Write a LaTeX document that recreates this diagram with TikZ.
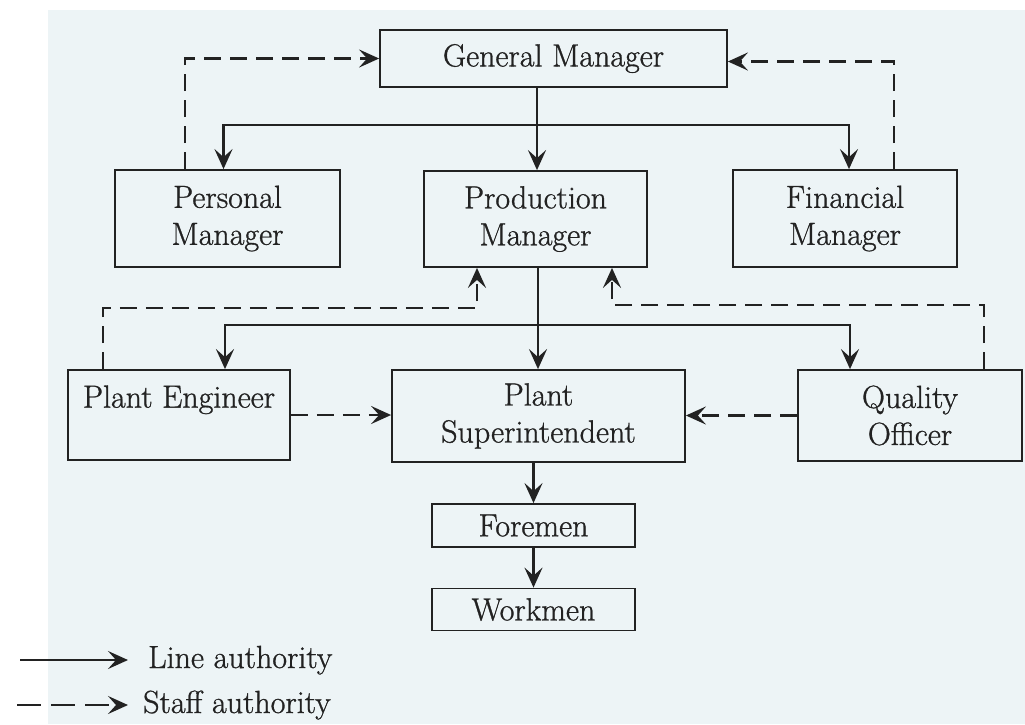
\documentclass[tikz,border=0pt]{standalone}
\usepackage{fontspec}
\usetikzlibrary{arrows.meta}
\newfontfamily\diafont{Latin Modern Roman}[FakeBold=0.9]
\definecolor{ink}{HTML}{222222}
\definecolor{paper}{HTML}{EDF4F6}
\tikzset{
  box/.style={draw=ink, line width=1.8pt, align=center, inner sep=0pt, text=ink,
              font=\diafont\fontsize{32}{37}\selectfont},
  lineauth/.style={draw=ink, line width=2.6pt, -{Stealth[length=20pt,width=18pt,inset=8pt]}},
  staffauth/.style={draw=ink, line width=2.6pt, dash pattern=on 17pt off 9pt,
              -{Stealth[length=20pt,width=18pt,inset=8pt]}},
  lbl/.style={inner sep=0pt, text=ink, font=\diafont\fontsize{32}{37}\selectfont}
}
\begin{document}
\begin{tikzpicture}[x=1pt,y=-1pt]
\useasboundingbox (0,0) rectangle (1025,724);
\fill[paper] (48,10) rectangle (1025,724);
% boxes
\node[box, minimum width=347, minimum height=57] (gm) at (553.5,58.5) {General Manager};
\node[box, minimum width=225, minimum height=97] (pem) at (227.5,218.5) {Personal\\Manager};
\node[box, minimum width=223, minimum height=96] (prm) at (535.5,219) {Production\\Manager};
\node[box, minimum width=224, minimum height=97] (fm) at (845,218.5) {Financial\\Manager};
\node[box, minimum width=222, minimum height=90] (pe) at (179,415) {Plant Engineer\\\mbox{}};
\node[box, minimum width=293, minimum height=92] (ps) at (538.5,416) {Plant\\Superintendent};
\node[box, minimum width=224, minimum height=91] (qo) at (910,415.5) {Quality\\Officer};
\node[box, minimum width=203, minimum height=43] (fo) at (533.5,525.5) {Foremen};
\node[box, minimum width=203, minimum height=42] (wo) at (533.5,609.5) {Workmen};
% line authority: GM to managers
\coordinate (j1) at (537,125);
\draw[lineauth] (gm.south -| j1) -- (j1 |- prm.north);
\draw[lineauth] (j1) -| ([xshift=-4pt]pem.north);
\draw[lineauth] (j1) -| ([xshift=4pt]fm.north);
% staff authority to GM
\draw[staffauth] ([xshift=-42.5pt]pem.north) |- (gm.west);
\draw[staffauth] ([xshift=49pt]fm.north) |- ([yshift=-3pt]gm.east);
% line authority: production manager down
\coordinate (j2) at (538,325);
\draw[lineauth] (prm.south -| j2) -- (j2 |- ps.north);
\draw[lineauth] (j2) -| ([xshift=46pt]pe.north);
\draw[lineauth] (j2) -| ([xshift=-60pt]qo.north);
% staff authority to production manager
\coordinate (k1) at (477,308);
\coordinate (k2) at (612,305);
\draw[staffauth] ([xshift=-76pt]pe.north) |- (k1) -- (k1 |- prm.south);
\draw[staffauth] ([xshift=74pt]qo.north) |- (k2) -- (k2 |- prm.south);
% staff authority to plant superintendent
\draw[staffauth] (pe.east) -- (pe.east -| ps.west);
\draw[staffauth] (qo.west) -- (qo.west -| ps.east);
% foremen, workmen
\draw[lineauth] (ps.south -| fo.north) -- (fo.north);
\draw[lineauth] (fo.south) -- (wo.north);
% legend
\node[lbl, anchor=base west] (lt1) at (148,668) {Line authority};
\node[lbl, anchor=base west] (lt2) at (143,713) {Staff authority};
\coordinate (la1) at (20,660);
\coordinate (la2) at (17,705);
\draw[lineauth, line width=2pt] (la1) -- (128,660);
\draw[staffauth, line width=2pt, dash pattern=on 24pt off 10pt] (la2) -- (128,705);
\end{tikzpicture}
\end{document}
